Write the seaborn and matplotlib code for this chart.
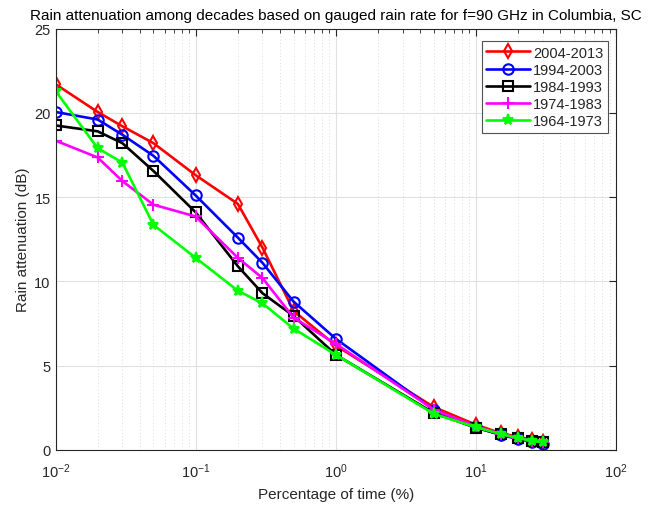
import matplotlib
matplotlib.use("Agg")
import matplotlib.pyplot as plt
from matplotlib.ticker import LogLocator, NullFormatter
import seaborn as sns
import pandas as pd

# Percentage of time (%) at which attenuation was evaluated
pct_time = [0.01, 0.02, 0.03, 0.05, 0.1, 0.2, 0.3, 0.5, 1, 5, 10, 15, 20, 25, 30]

# Rain attenuation (dB) per decade
att_2004_2013 = [21.7, 20.05, 19.2, 18.2, 16.3, 14.6, 12.0, 8.25, 6.2, 2.55, 1.5, 1.0, 0.78, 0.6, 0.5]
att_1994_2003 = [20.05, 19.6, 18.7, 17.45, 15.1, 12.6, 11.1, 8.8, 6.6, 2.4, 1.35, 0.9, 0.65, 0.5, 0.38]
att_1984_1993 = [19.25, 18.9, 18.2, 16.55, 14.1, 10.9, 9.3, 7.95, 5.65, 2.2, 1.32, 0.92, 0.7, 0.55, 0.45]
att_1974_1983 = [18.35, 17.35, 15.95, 14.55, 13.85, 11.4, 10.2, 7.85, 6.3, 2.4, 1.4, 0.95, 0.72, 0.56, 0.46]
att_1964_1973 = [21.3, 17.9, 17.05, 13.35, 11.4, 9.45, 8.7, 7.2, 5.65, 2.15, 1.35, 0.95, 0.7, 0.55, 0.45]

decades = ["2004-2013", "1994-2003", "1984-1993", "1974-1983", "1964-1973"]
series = [att_2004_2013, att_1994_2003, att_1984_1993, att_1974_1983, att_1964_1973]
colors = ["#ff0000", "#0000ff", "#000000", "#ff00ff", "#00ff00"]
markers = ["d", "o", "s", "+", "*"]
marker_faces = ["none", "none", "none", "#ff00ff", "#00ff00"]
marker_sizes = [7, 7.5, 6.5, 8, 8]

df = pd.DataFrame({
    "pct": pct_time * len(decades),
    "att": sum(series, []),
    "decade": sum([[d] * len(pct_time) for d in decades], []),
})

sns.set_style("white")
plt.rcParams["font.family"] = ["Liberation Sans", "DejaVu Sans"]
plt.rcParams["mathtext.fontset"] = "custom"
plt.rcParams["mathtext.rm"] = "Liberation Sans"
plt.rcParams["mathtext.it"] = "Liberation Sans"
plt.rcParams["mathtext.default"] = "regular"

fig = plt.figure(figsize=(6.49, 5.06), dpi=100)
ax = fig.add_axes([55.5 / 649, 55 / 506, (616 - 55.5) / 649, (451 - 29.5) / 506])

for name, c, m, mfc, ms in zip(decades, colors, markers, marker_faces, marker_sizes):
    sub = df[df["decade"] == name]
    sns.lineplot(data=sub, x="pct", y="att", ax=ax, color=c, marker=m,
                 markersize=ms, markerfacecolor=mfc, markeredgecolor=c,
                 markeredgewidth=1.5, linewidth=1.9, label=name, estimator=None,
                 sort=False)

ax.set_xscale("log")
ax.set_xlim(0.01, 100)
ax.set_ylim(0, 25)
ax.set_yticks([0, 5, 10, 15, 20, 25])
ax.xaxis.set_major_locator(LogLocator(base=10, numticks=10))
ax.xaxis.set_minor_locator(LogLocator(base=10, subs=range(2, 10), numticks=100))
ax.xaxis.set_minor_formatter(NullFormatter())

ax.grid(which="major", color="#e0e0e0", linewidth=0.8, linestyle="-")
ax.grid(which="minor", axis="x", color="#d0d0d0", linewidth=0.6, linestyle=(0, (1, 3)))
ax.set_axisbelow(True)

for s in ax.spines.values():
    s.set_color("#262626")
    s.set_linewidth(0.8)
ax.tick_params(which="both", direction="in", top=True, right=True,
               colors="#262626", labelsize=10.5)
ax.tick_params(axis="x", which="major", pad=8)
ax.tick_params(which="major", length=5)
ax.tick_params(which="minor", length=3)

ax.set_xlabel("Percentage of time (%)", fontsize=11, color="#262626", labelpad=5)
ax.set_ylabel("Rain attenuation (dB)", fontsize=11, color="#262626", labelpad=3)
ax.set_title("Rain attenuation among decades based on gauged rain rate for f=90 GHz in Columbia, SC",
             fontsize=11, color="#000000", pad=7)

leg = ax.legend(loc="upper right", fontsize=10.5, frameon=True, fancybox=False,
                bbox_to_anchor=(0.985, 0.97), borderaxespad=0.0,
                handlelength=3.0, labelspacing=0.22,
                borderpad=0.3, handletextpad=0.2)
leg.get_frame().set_edgecolor("#262626")
leg.get_frame().set_linewidth(0.8)

fig.savefig("out.png", dpi=100, facecolor="white")
